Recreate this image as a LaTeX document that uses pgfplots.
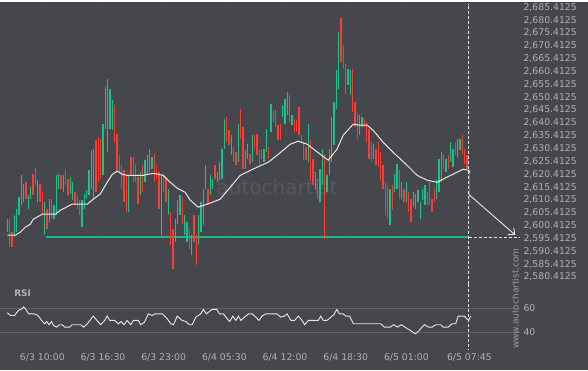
\documentclass[border=0pt]{standalone}
\usepackage{pgfplots}
\pgfplotsset{compat=1.18}
\usepackage{pgfplotstable}
\usetikzlibrary{arrows.meta}
\usepackage{fontspec}
\setmainfont{DejaVu Sans}
\definecolor{bg}{RGB}{69,71,76}
\definecolor{txt}{RGB}{175,177,181}
\definecolor{cgreen}{RGB}{24,196,140}
\definecolor{cred}{RGB}{250,62,52}
\definecolor{sup}{RGB}{30,185,135}
\definecolor{gridc}{RGB}{96,98,103}
\definecolor{gridf}{RGB}{72,74,79}
\definecolor{wm}{RGB}{86,88,93}
\definecolor{linec}{RGB}{232,232,232}

\pgfplotstableread{
k lo hi d
1 2597.9 2602.9 1
2 2592.0 2602.9 0
3 2592.0 2597.9 0
4 2595.9 2604.5 1
5 2597.9 2606.8 1
6 2604.5 2611.5 1
7 2608.4 2620.0 1
8 2609.5 2616.5 1
9 2610.7 2617.3 0
10 2606.8 2612.3 1
11 2610.7 2615.4 1
12 2612.3 2620.4 0
13 2616.1 2622.8 0
14 2609.5 2618.1 1
15 2609.5 2616.5 0
16 2604.5 2613.4 0
17 2596.7 2609.5 1
18 2599.0 2606.8 0
19 2601.8 2610.7 1
20 2602.9 2610.7 0
21 2602.9 2608.4 1
22 2604.5 2620.0 1
23 2614.6 2620.4 1
24 2614.6 2620.0 0
25 2613.4 2620.0 1
26 2616.1 2622.4 0
27 2612.3 2618.5 0
28 2612.7 2619.3 1
29 2610.3 2617.3 1
30 2608.4 2613.4 0
31 2606.8 2612.3 0
32 2604.5 2610.3 0
33 2599.8 2610.3 1
34 2606.8 2612.7 1
35 2610.7 2614.2 1
36 2612.3 2622.0 1
37 2614.6 2629.8 1
38 2610.7 2630.2 1
39 2613.4 2633.7 0
40 2617.3 2634.8 0
41 2618.5 2634.0 0
42 2620.0 2639.9 1
43 2637.9 2654.3 1
44 2629.0 2657.4 1
45 2637.9 2653.5 1
46 2637.6 2649.2 1
47 2632.9 2647.3 0
48 2621.2 2636.0 0
49 2621.2 2627.8 0
50 2614.6 2623.9 0
51 2609.5 2622.0 0
52 2605.6 2620.0 0
53 2605.6 2620.0 1
54 2620.0 2627.1 0
55 2617.3 2627.1 0
56 2617.3 2624.3 0
57 2608.8 2619.3 0
58 2612.3 2621.2 1
59 2613.4 2623.9 0
60 2617.3 2625.9 1
61 2620.0 2627.8 1
62 2621.2 2630.2 1
63 2622.4 2627.1 1
64 2617.3 2628.2 0
65 2618.5 2623.9 0
66 2606.8 2621.2 0
67 2596.7 2620.0 1
68 2613.4 2620.4 0
69 2609.5 2619.3 0
70 2604.5 2614.6 1
71 2592.8 2605.6 0
72 2583.5 2599.0 0
73 2594.0 2602.9 1
74 2601.0 2610.3 1
75 2604.5 2612.3 1
76 2601.0 2611.5 0
77 2596.7 2604.5 1
78 2594.0 2601.8 1
79 2591.3 2599.0 0
80 2588.9 2596.7 1
81 2594.0 2604.5 0
82 2585.0 2596.7 0
83 2592.8 2604.5 1
84 2597.9 2609.5 1
85 2600.6 2614.6 1
86 2614.6 2623.9 1
87 2608.4 2614.6 0
88 2612.3 2620.0 1
89 2614.6 2618.5 1
90 2618.5 2623.9 0
91 2617.3 2621.2 1
92 2618.1 2625.1 1
93 2618.5 2630.2 1
94 2630.2 2641.8 1
95 2632.9 2642.6 0
96 2631.7 2637.6 0
97 2627.8 2635.6 1
98 2625.1 2630.9 0
99 2623.9 2629.0 0
100 2625.1 2639.9 1
101 2634.0 2645.7 0
102 2622.4 2638.7 0
103 2622.4 2629.8 1
104 2626.3 2632.1 1
105 2624.3 2628.2 0
106 2625.1 2635.6 1
107 2630.2 2635.6 0
108 2627.8 2636.0 0
109 2623.9 2629.8 0
110 2626.3 2630.2 0
111 2625.1 2630.2 1
112 2629.0 2637.9 1
113 2626.3 2630.9 0
114 2636.8 2647.7 1
115 2640.7 2645.3 0
116 2638.7 2645.3 0
117 2633.7 2639.5 0
118 2633.7 2639.9 0
119 2642.6 2647.3 1
120 2639.9 2649.6 1
121 2643.4 2652.3 1
122 2640.7 2651.2 0
123 2639.5 2643.4 1
124 2636.8 2641.8 0
125 2636.8 2641.4 0
126 2635.6 2646.5 0
127 2632.9 2635.6 0
128 2625.9 2632.9 0
129 2625.9 2630.9 0
130 2625.1 2639.9 1
131 2618.1 2633.7 0
132 2616.1 2626.3 0
133 2614.6 2621.2 1
134 2610.7 2618.5 0
135 2609.5 2622.4 1
136 2616.1 2630.2 1
137 2595.1 2628.2 0
138 2613.4 2620.0 1
139 2620.0 2630.2 1
140 2625.1 2642.6 1
141 2631.7 2648.4 1
142 2645.7 2660.9 1
143 2653.5 2675.7 1
144 2664.0 2681.1 0
145 2661.3 2670.6 0
146 2651.6 2663.2 0
147 2655.1 2661.3 1
148 2651.2 2660.9 1
149 2644.6 2661.3 0
150 2638.7 2648.4 0
151 2634.0 2643.8 0
152 2635.6 2643.4 1
153 2638.7 2642.6 1
154 2638.7 2641.8 0
155 2632.9 2640.7 0
156 2626.3 2637.9 0
157 2625.1 2632.9 0
158 2626.3 2632.1 1
159 2623.9 2630.2 0
160 2623.2 2632.9 0
161 2618.1 2629.0 0
162 2614.6 2623.9 0
163 2604.5 2617.3 0
164 2602.9 2616.1 0
165 2600.6 2614.6 1
166 2606.4 2616.1 0
167 2613.4 2620.4 1
168 2614.6 2624.3 1
169 2610.7 2622.0 0
170 2610.7 2617.3 1
171 2609.5 2614.6 0
172 2609.5 2617.3 1
173 2605.6 2613.4 0
174 2601.8 2610.7 0
175 2607.6 2613.4 1
176 2606.8 2612.7 1
177 2609.5 2614.2 1
178 2602.9 2609.5 1
179 2610.3 2614.6 1
180 2608.4 2616.1 1
181 2608.4 2613.4 0
182 2608.4 2617.3 0
183 2605.6 2610.7 0
184 2609.5 2614.6 0
185 2610.7 2618.1 1
186 2613.4 2626.3 1
187 2617.3 2629.0 1
188 2622.4 2628.2 0
189 2621.2 2626.3 1
190 2622.4 2627.8 0
191 2625.1 2632.9 1
192 2623.2 2630.2 1
193 2627.8 2632.9 0
194 2627.1 2634.0 1
195 2629.8 2634.0 1
196 2628.2 2635.6 0
197 2624.3 2630.2 0
198 2622.4 2627.8 0
199 2609.5 2622.4 0
}\candles

\pgfplotstableread{
k v
1.0 2596.7
4.4 2596.7
6.6 2597.9
8.7 2599.8
10.9 2601.0
12.1 2602.9
16.0 2604.9
21.6 2604.9
23.7 2606.4
28.8 2608.8
35.3 2608.8
37.8 2610.7
40.8 2612.7
43.8 2617.3
46.0 2620.4
48.1 2621.6
50.3 2620.4
52.4 2620.0
59.3 2620.0
63.5 2620.8
67.8 2620.0
70.8 2617.3
73.8 2615.0
77.2 2613.4
79.4 2610.3
82.8 2607.6
86.7 2608.8
92.2 2610.7
100.8 2620.0
108.1 2623.2
112.8 2625.1
116.6 2627.8
122.2 2632.1
125.6 2633.3
129.5 2632.1
135.1 2628.2
138.5 2625.9
142.3 2630.2
144.9 2635.6
149.2 2639.9
152.2 2639.5
155.2 2639.5
157.7 2637.6
162.0 2632.9
166.3 2629.0
172.3 2623.9
176.6 2620.0
180.9 2618.1
185.2 2617.3
189.4 2619.3
193.7 2621.2
196.3 2622.4
198.4 2622.0
199.3 2621.2
}\ma

\pgfplotstableread{
k r
0.9 56.4
2.5 54.1
4.1 54.1
5.7 58.3
7.3 59.7
8.0 61.3
8.9 59.2
10.1 55.5
12.5 55.5
14.1 54.1
15.7 50.0
17.0 47.2
17.9 49.1
18.9 46.4
19.9 49.1
20.8 45.8
22.1 44.4
23.4 46.4
24.5 46.4
25.6 44.4
27.7 44.4
28.8 46.4
32.5 46.4
33.7 44.4
35.3 47.2
37.8 53.6
39.4 50.0
41.0 46.4
42.7 50.0
43.8 53.6
44.9 50.0
47.0 50.0
48.6 47.2
49.7 49.1
51.0 46.4
52.3 50.0
53.9 46.4
55.0 50.0
57.1 50.0
58.2 46.4
59.8 48.6
61.4 55.5
63.0 54.1
64.2 55.5
67.4 55.5
69.5 51.4
71.1 47.2
72.2 46.4
73.8 53.6
75.9 50.0
77.5 49.1
79.1 46.4
80.2 46.4
81.8 52.8
83.9 55.5
85.0 59.2
86.3 55.5
88.7 59.2
90.8 59.2
91.9 55.5
93.6 55.5
95.2 51.4
96.3 49.1
97.6 53.6
98.9 50.0
100.0 53.6
101.1 50.0
102.7 52.8
104.3 55.5
105.9 55.5
107.5 52.8
108.8 50.0
110.1 53.6
111.7 55.5
116.5 55.5
118.1 52.8
119.7 53.6
120.9 55.5
122.5 50.0
124.1 50.0
125.7 53.6
127.3 50.0
128.4 46.4
130.0 50.0
134.2 50.0
135.3 53.6
136.4 50.0
138.0 50.0
139.7 52.8
140.9 54.7
142.2 59.2
143.3 55.5
144.9 55.5
146.1 53.6
147.7 53.6
149.3 47.2
161.0 47.2
162.6 44.4
165.0 44.4
166.6 46.4
168.2 44.4
169.8 46.4
171.4 44.4
173.0 42.5
174.7 40.3
175.9 38.9
177.1 40.8
178.7 44.4
179.8 46.4
181.4 44.4
183.0 44.4
184.6 46.4
186.7 46.4
187.8 44.4
189.9 44.4
191.5 47.2
193.1 47.2
194.2 53.6
196.8 53.6
197.9 51.4
198.7 50.0
199.5 53.6
}\rsi

\begin{document}
\begin{tikzpicture}
\fill[bg] (0pt,0pt) rectangle (588pt,-368pt);
\begin{axis}[
  at={(0pt,0pt)}, anchor=north west,
  scale only axis, width=520pt, height=282pt,
  xmin=-1.99, xmax=220.7, ymin=2577.63, ymax=2687.36,
  axis line style={draw=none},
  major tick length=0pt,
  xtick={16,42,68,94,120,146,172,199}, xticklabels={},
  xmajorgrids, grid style={color=gridf, line width=0.5pt},
  ytick={2580.4125,2585.4125,2590.4125,2595.4125,2600.4125,2605.4125,2610.4125,2615.4125,2620.4125,2625.4125,2630.4125,2635.4125,2640.4125,2645.4125,2650.4125,2655.4125,2660.4125,2665.4125,2670.4125,2675.4125,2680.4125,2685.4125},
  yticklabels={{2,580.4125},{2,585.4125},{2,590.4125},{2,595.4125},{2,600.4125},{2,605.4125},{2,610.4125},{2,615.4125},{2,620.4125},{2,625.4125},{2,630.4125},{2,635.4125},{2,640.4125},{2,645.4125},{2,650.4125},{2,655.4125},{2,660.4125},{2,665.4125},{2,670.4125},{2,675.4125},{2,680.4125},{2,685.4125}},
  yticklabel pos=right,
  yticklabel style={font=\fontsize{9.3}{10}\selectfont, text=txt, anchor=west},
  clip=false,
]
\node[text=wm, font=\fontsize{20}{20}\selectfont, anchor=center] at (axis cs:116.6,2615.4) {autochartist};
\addplot[sup, line width=2.4pt, forget plot] coordinates {(17.6,2596.0) (198.7,2596.0)};
\addplot[draw=none, mark=none, forget plot,
  restrict expr to domain={\thisrow{d}}{0.5:1.5},
  error bars/.cd, y dir=plus, y explicit, error mark=none,
  error bar style={line width=1.2pt, draw=cgreen, solid}]
  table[x=k, y=lo, y error expr=\thisrow{hi}-\thisrow{lo}] {\candles};
\addplot[draw=none, mark=none, forget plot,
  restrict expr to domain={\thisrow{d}}{-0.5:0.5},
  error bars/.cd, y dir=plus, y explicit, error mark=none,
  error bar style={line width=1.2pt, draw=cred, solid}]
  table[x=k, y=lo, y error expr=\thisrow{hi}-\thisrow{lo}] {\candles};
\addplot[linec, line width=1pt, forget plot] table[x=k, y=v] {\ma};
\addplot[linec, line width=0.6pt, dash pattern=on 3pt off 2pt, forget plot] coordinates {(198.7,2596.0) (220.7,2596.0)};
\addplot[linec, line width=0.6pt, dash pattern=on 3pt off 2pt, forget plot] coordinates {(198.7,2577.63) (198.7,2686.6)};
\addplot[linec, line width=0.9pt, -{Straight Barb[length=5pt,width=9pt]}, forget plot] coordinates {(198.7,2612.6) (218.6,2596.8)};
\end{axis}
\begin{axis}[
  at={(0pt,-282pt)}, anchor=north west,
  scale only axis, width=520pt, height=66pt,
  xmin=-1.99, xmax=220.7, ymin=25.25, ymax=80.25,
  axis line style={draw=none},
  major tick length=0pt,
  xtick={16,42,68,94,120,146,172,199},
  xticklabels={6/3 10:00,6/3 16:30,6/3 23:00,6/4 05:30,6/4 12:00,6/4 18:30,6/5 01:00,6/5 07:45},
  xticklabel style={font=\fontsize{9.3}{10}\selectfont, text=txt},
  ytick={40,60}, yticklabels={40,60},
  yticklabel pos=right,
  yticklabel style={font=\fontsize{9.3}{10}\selectfont, text=txt, anchor=west},
  ymajorgrids, grid style={color=gridc, line width=0.7pt},
  clip=false,
]
\addplot[linec, line width=0.9pt, forget plot] table[x=k, y=r] {\rsi};
\addplot[linec, line width=0.6pt, dash pattern=on 3pt off 2pt, forget plot] coordinates {(198.7,80.25) (198.7,26.0)};
\node[anchor=west, inner sep=0pt, text=txt, font=\bfseries\fontsize{9}{9}\selectfont] at (axis cs:3.9,72.7) {RSI};
\node[rotate=90, anchor=center, inner sep=0pt, text=txt!80!bg, font=\fontsize{9}{9}\selectfont] at (axis cs:218.6,68.2) {www.autochartist.com};
\end{axis}
\end{tikzpicture}
\end{document}
